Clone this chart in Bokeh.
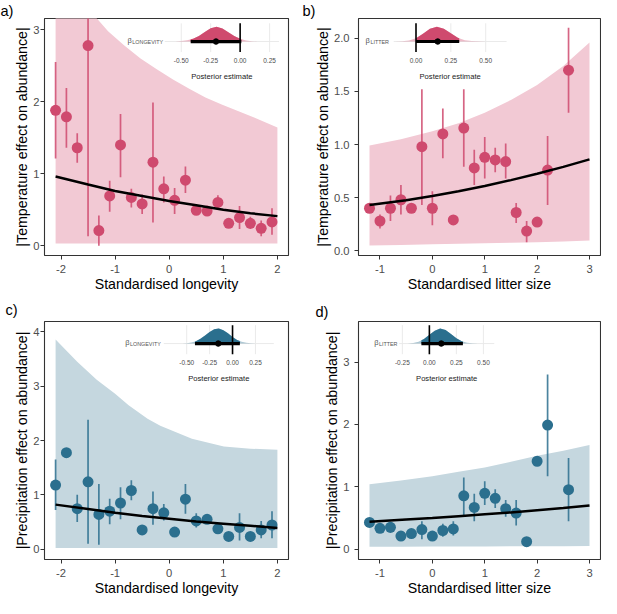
import numpy as np
from bokeh.plotting import figure
from bokeh.models import Range1d, FixedTicker
from bokeh.layouts import gridplot
from bokeh.embed import file_html
from bokeh.resources import INLINE
from bokeh.core.properties import value

FONT = "Liberation Sans"
PINK, PINK_RIB = "#cf4a6e", "#f2c9d4"
BLUE, BLUE_RIB = "#2b6f8e", "#c5d7df"

# ---------------- panel a : temperature vs longevity ----------------
a_x = [-2.1, -1.9, -1.7, -1.5, -1.3, -1.1, -0.9, -0.7, -0.5, -0.3, -0.1, 0.1, 0.3, 0.5, 0.7, 0.9, 1.1, 1.3, 1.5, 1.7, 1.9]
a_y = [1.88, 1.79, 1.36, 2.78, 0.21, 0.69, 1.40, 0.67, 0.58, 1.16, 0.79, 0.63, 0.91, 0.49, 0.48, 0.60, 0.31, 0.39, 0.31, 0.24, 0.33]
a_lo = [1.21, 1.36, 1.15, 0.13, 0.00, 0.47, 0.95, 0.53, 0.44, 0.32, 0.60, 0.44, 0.73, 0.49, 0.48, 0.50, 0.31, 0.23, 0.23, 0.13, 0.15]
a_hi = [2.55, 2.19, 1.56, 3.60, 0.42, 0.90, 1.83, 0.79, 0.71, 1.99, 0.96, 0.80, 1.10, 0.49, 0.48, 0.70, 0.31, 0.55, 0.40, 0.35, 0.52]
a_fit_x = [-2.1, -1.5, -1.0, -0.5, 0.0, 0.5, 1.0, 1.5, 2.0]
a_fit_y = [0.96, 0.85, 0.76, 0.69, 0.62, 0.56, 0.50, 0.45, 0.41]
a_rib_x = [-2.1, -1.6, -1.34, -1.13, -0.83, -0.53, -0.23, 0.07, 0.37, 0.67, 0.97, 1.27, 1.57, 2.0]
a_rib_lo = [0.03, 0.03, 0.03, 0.03, 0.03, 0.03, 0.03, 0.03, 0.03, 0.03, 0.03, 0.03, 0.03, 0.03]
a_rib_hi = [3.9, 3.4, 3.16, 2.98, 2.78, 2.60, 2.45, 2.31, 2.18, 2.06, 1.96, 1.87, 1.78, 1.64]
a_post_x = [-0.65, -0.60, -0.55, -0.50, -0.45, -0.40, -0.35, -0.30, -0.25, -0.20, -0.15, -0.10, -0.05, 0.00, 0.05, 0.10, 0.15, 0.20, 0.25, 0.30]
a_post_d = [0, 0.002, 0.007, 0.03, 0.08, 0.19, 0.38, 0.64, 0.90, 1.0, 0.88, 0.63, 0.37, 0.18, 0.07, 0.02, 0.006, 0.001, 0, 0]
a_est, a_lo95, a_hi95 = -0.205, -0.42, 0.01
a_ins_ticks = [-0.5, -0.25, 0.0, 0.25]
a_ins_labels = ["-0.50", "-0.25", "0.00", "0.25"]

# ---------------- panel b : temperature vs litter size ----------------
b_x = [-1.2, -1.0, -0.8, -0.6, -0.4, -0.2, 0.0, 0.2, 0.4, 0.6, 0.8, 1.0, 1.2, 1.4, 1.6, 1.8, 2.0, 2.2, 2.6]
b_y = [0.40, 0.28, 0.40, 0.48, 0.40, 0.98, 0.40, 1.10, 0.29, 1.155, 0.78, 0.88, 0.855, 0.84, 0.36, 0.185, 0.27, 0.76, 1.70]
b_lo = [0.40, 0.21, 0.28, 0.34, 0.40, 0.43, 0.24, 0.87, 0.29, 0.79, 0.62, 0.68, 0.74, 0.68, 0.26, 0.08, 0.27, 0.43, 1.30]
b_hi = [0.40, 0.34, 0.52, 0.62, 0.40, 1.52, 0.56, 1.34, 0.29, 1.52, 0.95, 1.07, 0.97, 1.01, 0.45, 0.28, 0.27, 1.08, 2.10]
b_fit_x = [-1.2, -0.5, 0.0, 0.5, 1.0, 1.5, 2.0, 2.5, 3.0]
b_fit_y = [0.43, 0.475, 0.515, 0.56, 0.61, 0.665, 0.725, 0.79, 0.86]
b_rib_x = [-1.2, -0.6, 0.0, 0.5, 1.0, 1.5, 2.0, 2.5, 3.0]
b_rib_lo = [0.05, 0.055, 0.06, 0.065, 0.07, 0.075, 0.08, 0.088, 0.096]
b_rib_hi = [0.99, 1.05, 1.125, 1.20, 1.30, 1.42, 1.56, 1.74, 1.96]
b_post_x = [-0.15, -0.10, -0.05, 0.00, 0.05, 0.10, 0.15, 0.20, 0.25, 0.30, 0.35, 0.40, 0.45, 0.50]
b_post_d = [0, 0.01, 0.06, 0.22, 0.52, 0.85, 1.0, 0.86, 0.55, 0.26, 0.09, 0.03, 0.01, 0]
b_est, b_lo95, b_hi95 = 0.156, 0.0, 0.31
b_ins_ticks = [0.0, 0.25, 0.5]
b_ins_labels = ["0.00", "0.25", "0.50"]

# ---------------- panel c : precipitation vs longevity ----------------
c_x = [-2.1, -1.9, -1.7, -1.5, -1.3, -1.1, -0.9, -0.7, -0.5, -0.3, -0.1, 0.1, 0.3, 0.5, 0.7, 0.9, 1.1, 1.3, 1.5, 1.7, 1.9]
c_y = [1.18, 1.775, 0.745, 1.24, 0.64, 0.70, 0.85, 1.08, 0.355, 0.745, 0.67, 0.315, 0.92, 0.52, 0.55, 0.375, 0.235, 0.40, 0.235, 0.355, 0.445]
c_lo = [0.72, 1.775, 0.50, 0.10, 0.08, 0.46, 0.55, 0.90, 0.355, 0.45, 0.53, 0.315, 0.65, 0.40, 0.50, 0.375, 0.235, 0.16, 0.235, 0.20, 0.20]
c_hi = [1.65, 1.775, 1.00, 2.38, 1.20, 0.93, 1.14, 1.27, 0.355, 1.06, 0.83, 0.315, 1.20, 0.66, 0.60, 0.375, 0.235, 0.66, 0.235, 0.52, 0.70]
c_fit_x = [-2.1, -1.5, -1.0, -0.5, 0.0, 0.5, 1.0, 1.5, 2.0]
c_fit_y = [0.82, 0.74, 0.67, 0.61, 0.56, 0.51, 0.47, 0.43, 0.39]
c_rib_x = [-2.1, -1.7, -1.34, -1.0, -0.75, -0.4, -0.165, 0.42, 1.01, 1.5, 2.0]
c_rib_lo = [0.02, 0.02, 0.02, 0.02, 0.02, 0.02, 0.02, 0.02, 0.02, 0.02, 0.02]
c_rib_hi = [3.86, 3.45, 3.12, 2.86, 2.65, 2.40, 2.27, 2.03, 1.89, 1.85, 1.83]
c_post_x = [-0.70, -0.65, -0.60, -0.55, -0.50, -0.45, -0.40, -0.35, -0.30, -0.25, -0.20, -0.15, -0.10, -0.05, 0.00, 0.05, 0.10, 0.15, 0.20, 0.25, 0.30]
c_post_d = [0, 0.001, 0.002, 0.008, 0.025, 0.068, 0.16, 0.32, 0.53, 0.77, 0.95, 1.0, 0.89, 0.68, 0.44, 0.24, 0.12, 0.05, 0.02, 0.005, 0]
c_est, c_lo95, c_hi95 = -0.156, -0.41, 0.08
c_ins_ticks = [-0.5, -0.25, 0.0, 0.25]
c_ins_labels = ["-0.50", "-0.25", "0.00", "0.25"]

# ---------------- panel d : precipitation vs litter size ----------------
d_x = [-1.2, -1.0, -0.8, -0.6, -0.4, -0.2, 0.0, 0.2, 0.4, 0.6, 0.8, 1.0, 1.2, 1.4, 1.6, 1.8, 2.0, 2.2, 2.6]
d_y = [0.43, 0.335, 0.35, 0.21, 0.25, 0.315, 0.21, 0.30, 0.325, 0.855, 0.67, 0.895, 0.815, 0.65, 0.58, 0.12, 1.41, 1.99, 0.955]
d_lo = [0.43, 0.335, 0.26, 0.21, 0.25, 0.16, 0.21, 0.20, 0.22, 0.55, 0.45, 0.71, 0.66, 0.52, 0.38, 0.12, 1.41, 1.17, 0.45]
d_hi = [0.43, 0.335, 0.43, 0.21, 0.25, 0.45, 0.21, 0.41, 0.45, 1.15, 0.89, 1.09, 0.96, 0.79, 0.79, 0.12, 1.41, 2.80, 1.46]
d_fit_x = [-1.2, -0.5, 0.0, 0.5, 1.0, 1.5, 2.0, 2.5, 3.0]
d_fit_y = [0.44, 0.475, 0.50, 0.53, 0.56, 0.59, 0.625, 0.66, 0.70]
d_rib_x = [-1.2, -0.6, 0.0, 0.5, 1.0, 1.5, 2.0, 2.5, 3.0]
d_rib_lo = [0.04, 0.041, 0.042, 0.044, 0.045, 0.047, 0.048, 0.049, 0.05]
d_rib_hi = [1.04, 1.10, 1.17, 1.24, 1.31, 1.40, 1.50, 1.58, 1.67]
d_post_x = [-0.30, -0.25, -0.20, -0.15, -0.10, -0.05, 0.00, 0.05, 0.10, 0.15, 0.20, 0.25, 0.30, 0.35, 0.40, 0.45, 0.50]
d_post_d = [0, 0.002, 0.01, 0.04, 0.12, 0.30, 0.58, 0.86, 1.0, 0.90, 0.64, 0.35, 0.15, 0.05, 0.013, 0.003, 0]
d_est, d_lo95, d_hi95 = 0.11, -0.074, 0.31
d_ins_ticks = [-0.25, 0.0, 0.25, 0.5]
d_ins_labels = ["-0.25", "0.00", "0.25", "0.50"]

# axis ticks
long_ticks = [-2, -1, 0, 1, 2]
long_tick_labels = ["-2", "-1", "0", "1", "2"]
litter_ticks = [-1, 0, 1, 2, 3]
litter_tick_labels = ["-1", "0", "1", "2", "3"]
a_yticks, a_ylabels = [0, 1, 2, 3], ["0", "1", "2", "3"]
b_yticks, b_ylabels = [0, 0.5, 1.0, 1.5, 2.0], ["0.0", "0.5", "1.0", "1.5", "2.0"]
c_yticks, c_ylabels = [0, 1, 2, 3, 4], ["0", "1", "2", "3", "4"]
d_yticks, d_ylabels = [0, 1, 2, 3], ["0", "1", "2", "3"]


def make_panel(tag, size, borders, ystand, xr, yr, xt, xtl, yt, ytl, xlabel, ylabel,
               px, py, plo, phi, fx, fy, rx, rlo, rhi, col, rcol,
               post_x, post_d, est, lo95, hi95, iticks, ilabels, beta_sub, ins, tagpos):
    fw, fh = size
    bl, br, bt, bb = borders
    W, H = fw - bl - br, fh - bt - bb
    p = figure(width=fw, height=fh, x_range=Range1d(*xr), y_range=Range1d(*yr),
               output_backend="svg", toolbar_location=None,
               min_border_left=bl, min_border_right=br, min_border_top=bt, min_border_bottom=bb)
    p.outline_line_color = "#333333"
    p.outline_line_width = 1.1
    p.xgrid.visible = False
    p.ygrid.visible = False
    for ax, ticks, labels, stand in ((p.xaxis[0], xt, xtl, 5), (p.yaxis[0], yt, ytl, ystand)):
        ax.ticker = FixedTicker(ticks=ticks)
        ax.major_label_overrides = {t: l for t, l in zip(ticks, labels)}
        ax.minor_tick_line_color = None
        ax.axis_line_color = None
        ax.major_tick_line_color = "#333333"
        ax.major_tick_out = 4
        ax.major_tick_in = 0
        ax.major_label_text_font = FONT
        ax.major_label_text_font_size = "11.2px"
        ax.major_label_text_color = "#4d4d4d"
        ax.major_label_standoff = stand
        ax.axis_label_text_font = FONT
        ax.axis_label_text_font_size = "14.2px"
        ax.axis_label_text_font_style = "normal"
        ax.axis_label_text_color = "black"
        ax.axis_label_standoff = 0
    p.xaxis.axis_label = xlabel
    p.yaxis.axis_label = ylabel

    # panel tag as a left-aligned title shifted into the left border
    dx, stand = tagpos
    p.title.text = tag
    p.title.align = "left"
    p.title.offset = dx
    p.title.standoff = stand
    p.title.text_font = FONT
    p.title.text_font_size = "14.6px"
    p.title.text_font_style = "normal"
    p.title.text_color = "black"

    # main marks
    p.varea(x=rx, y1=rlo, y2=rhi, fill_color=rcol, fill_alpha=1.0)
    p.segment(x0=px, y0=plo, x1=px, y1=phi, line_color=col, line_width=1.7, line_alpha=0.85)
    p.scatter(x=px, y=py, size=11.0, fill_color=col, line_color=col, line_width=0)
    p.line(x=fx, y=fy, line_color="black", line_width=2.5)

    # inset (posterior) on its own ranges
    x0_px0, k0, base0, pan0, pan1, lab0, W0, H0 = ins
    sx, sy = W / W0, H / H0
    x0, k = x0_px0 * sx, k0 * sx
    base = base0 * sy
    p.extra_x_ranges = {"ix": Range1d(-x0 / k, (W - x0) / k)}
    p.extra_y_ranges = {"iy": Range1d(-(H - base), base)}
    kw = dict(x_range_name="ix", y_range_name="iy")
    top, bot = 19 * sy, -11 * sy
    n = len(iticks)
    p.segment(x0=iticks, y0=[bot] * n, x1=iticks, y1=[top] * n, line_color="#e8e8e8", line_width=0.9, **kw)
    p.segment(x0=[pan0], y0=[0], x1=[pan1], y1=[0], line_color="#e8e8e8", line_width=0.9, **kw)
    xs = np.array(post_x, dtype=float)
    hs = np.array(post_d, dtype=float) * 15.5 * sy
    p.varea(x=xs, y1=np.zeros_like(xs), y2=hs, fill_color=col, fill_alpha=0.38, **kw)
    inner = xs[(xs > lo95) & (xs < hi95)]
    cx = np.concatenate([[lo95], inner, [hi95]])
    ch = np.interp(cx, xs, hs)
    p.varea(x=cx, y1=np.zeros_like(cx), y2=ch, fill_color=col, fill_alpha=1.0, **kw)
    p.segment(x0=[lo95], y0=[0], x1=[hi95], y1=[0], line_color="black", line_width=3.2, **kw)
    p.segment(x0=[0], y0=[bot], x1=[0], y1=[top], line_color="black", line_width=1.6, **kw)
    p.scatter(x=[est], y=[0], size=5.5, fill_color="black", line_color="black", **kw)
    p.text(x=iticks, y=[-20 * sy] * n, text=ilabels, text_font=value(FONT), text_font_size="6.5px",
           text_align="center", text_baseline="middle", text_color="#4d4d4d", **kw)
    p.text(x=[(pan0 + pan1) / 2], y=[-36 * sy], text=["Posterior estimate"], text_font=value(FONT),
           text_font_size="7.6px", text_align="center", text_baseline="middle", text_color="#1a1a1a", **kw)
    bx = (lab0 * sx - x0) / k
    p.text(x=[bx], y=[0.6], text=["β"], text_font=value(FONT), text_font_size="7.5px",
           text_align="left", text_baseline="middle", text_color="#555555", **kw)
    p.text(x=[bx + 4.8 / k], y=[0], text=[beta_sub], text_font=value(FONT), text_font_size="5.4px",
           text_align="left", text_baseline="middle", text_color="#555555", **kw)
    return p


TL = "|Temperature effect on abundance|"
PL = "|Precipitation effect on abundance|"
XL1 = "Standardised longevity"
XL2 = "Standardised litter size"

pa = make_panel("a)", (302, 295), (44, 14, 15, 40), 1, (-2.305, 2.205), (-0.137, 3.156),
                long_ticks, long_tick_labels, a_yticks, a_ylabels, XL1, TL,
                a_x, a_y, a_lo, a_hi, a_fit_x, a_fit_y, a_rib_x, a_rib_lo, a_rib_hi, PINK, PINK_RIB,
                a_post_x, a_post_d, a_est, a_lo95, a_hi95, a_ins_ticks, a_ins_labels, "LONGEVITY",
                (201.0, 121, 24, -0.64, 0.33, 85.3, 250.7, 247.0), (-44, 0))
pb = make_panel("b)", (299, 295), (56, 1, 15, 40), 5, (-1.41, 3.21), (-0.045, 2.187),
                litter_ticks, litter_tick_labels, b_yticks, b_ylabels, XL2, TL,
                b_x, b_y, b_lo, b_hi, b_fit_x, b_fit_y, b_rib_x, b_rib_lo, b_rib_hi, PINK, PINK_RIB,
                b_post_x, b_post_d, b_est, b_lo95, b_hi95, b_ins_ticks, b_ins_labels, "LITTER",
                (59.0, 143, 24, -0.16, 0.65, 7.3, 248.3, 247.3), (-56, 0))
pc = make_panel("c)", (302, 303), (44, 9, 26, 39), 1, (-2.305, 2.205), (-0.19, 4.19),
                long_ticks, long_tick_labels, c_yticks, c_ylabels, XL1, PL,
                c_x, c_y, c_lo, c_hi, c_fit_x, c_fit_y, c_rib_x, c_rib_lo, c_rib_hi, BLUE, BLUE_RIB,
                c_post_x, c_post_d, c_est, c_lo95, c_hi95, c_ins_ticks, c_ins_labels, "LONGEVITY",
                (196.9, 96, 22.8, -0.75, 0.45, 84.6, 255.5, 246.2), (-39, 7))
pd_ = make_panel("d)", (299, 303), (51, 1, 26, 39), 5, (-1.41, 3.21), (-0.165, 3.65),
                 litter_ticks, litter_tick_labels, d_yticks, d_ylabels, XL2, PL,
                 d_x, d_y, d_lo, d_hi, d_fit_x, d_fit_y, d_rib_x, d_rib_lo, d_rib_hi, BLUE, BLUE_RIB,
                 d_post_x, d_post_d, d_est, d_lo95, d_hi95, d_ins_ticks, d_ins_labels, "LITTER",
                 (74.1, 113, 22.8, -0.28, 0.60, 16.4, 253.0, 246.2), (-43, 3))

grid = gridplot([[pa, pb], [pc, pd_]], toolbar_location=None)
open("out.html", "w").write(file_html(grid, INLINE))
